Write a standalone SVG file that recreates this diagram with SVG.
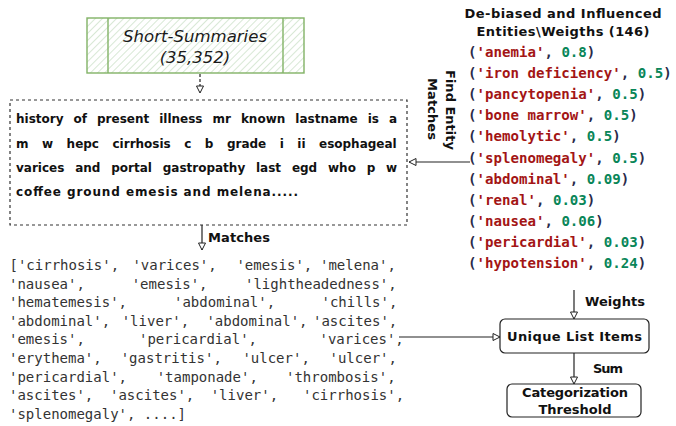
<svg xmlns="http://www.w3.org/2000/svg" width="676" height="426" viewBox="0 0 676 426">
<style>
.c{font-family:"DejaVu Sans","Liberation Sans",sans-serif;font-weight:bold;font-size:13px;fill:#111}
.p{font-family:"DejaVu Sans","Liberation Sans",sans-serif;font-weight:bold;font-size:12px;fill:#111}
.it{font-family:"DejaVu Sans","Liberation Sans",sans-serif;font-style:italic;font-size:16.5px;fill:#1a1a1a}
.ml{font-family:"DejaVu Sans Mono","Liberation Mono",monospace;font-size:14px;fill:#333}
.mr{font-family:"DejaVu Sans Mono","Liberation Mono",monospace;font-size:14.1px;font-weight:bold;fill:#2a2a4a}
.s{fill:#a31515}
.n{fill:#098658}
.ln{stroke:#222;stroke-width:1.2;fill:none}
.box{fill:#fff;stroke:#222;stroke-width:1.2}
</style>
<defs>
<pattern id="hatch" patternUnits="userSpaceOnUse" width="5" height="5" patternTransform="rotate(45)">
<rect width="5" height="5" fill="#fff"/>
<line x1="0" y1="0" x2="0" y2="5" stroke="#c8dfc3" stroke-width="1.4"/>
</pattern>
<marker id="arr" markerUnits="userSpaceOnUse" markerWidth="9" markerHeight="9" refX="8" refY="4" orient="auto">
<path d="M1,0.5 L8,4 L1,7.5 z" fill="#fff" stroke="#222" stroke-width="1"/>
</marker>
</defs>

<g id="summaries">
<rect x="87" y="18" width="217" height="55" fill="url(#hatch)" stroke="#82b366" stroke-width="1.4"/>
<line x1="108" y1="18" x2="108" y2="73" stroke="#82b366" stroke-width="1.4"/>
<line x1="283" y1="18" x2="283" y2="73" stroke="#82b366" stroke-width="1.4"/>
<text class="it" x="195" y="42" text-anchor="middle" textLength="144">Short-Summaries</text>
<text class="it" x="195" y="63" text-anchor="middle">(35,352)</text>
</g>

<g id="note">
<rect x="10" y="100" width="397" height="125" fill="none" stroke="#333" stroke-width="1.2" stroke-dasharray="3 3"/>
<text class="p" y="123"><tspan x="16">history</tspan><tspan x="73.5">of</tspan><tspan x="97">present</tspan><tspan x="159.2">illness</tspan><tspan x="212.5">mr</tspan><tspan x="240.9">known</tspan><tspan x="295.3">lastname</tspan><tspan x="367.7">is</tspan><tspan x="389">a</tspan></text>
<text class="p" y="147.5"><tspan x="16">m</tspan><tspan x="42">w</tspan><tspan x="66.6">hepc</tspan><tspan x="112.5">cirrhosis</tspan><tspan x="184.2">c</tspan><tspan x="204.8">b</tspan><tspan x="226.9">grade</tspan><tspan x="279.7">i</tspan><tspan x="297.3">ii</tspan><tspan x="319">esophageal</tspan></text>
<text class="p" y="172"><tspan x="16">varices</tspan><tspan x="75.2">and</tspan><tspan x="111.2">portal</tspan><tspan x="162.7">gastropathy</tspan><tspan x="256">last</tspan><tspan x="291.9">egd</tspan><tspan x="328">who</tspan><tspan x="366.7">p</tspan><tspan x="386.1">w</tspan></text>
<text class="p" x="16" y="196" textLength="282">coffee ground emesis and melena.....</text>
</g>

<g id="entities">
<text class="c" x="563" y="18" text-anchor="middle" textLength="197">De-biased and Influenced</text>
<text class="c" x="563" y="36" text-anchor="middle" textLength="173">Entities\Weigths (146)</text>
<g class="mr">
<text x="468" y="57">(<tspan class="s">'anemia'</tspan>, <tspan class="n">0.8</tspan>)</text>
<text x="468" y="78">(<tspan class="s">'iron deficiency'</tspan>, <tspan class="n">0.5</tspan>)</text>
<text x="468" y="99">(<tspan class="s">'pancytopenia'</tspan>, <tspan class="n">0.5</tspan>)</text>
<text x="468" y="120">(<tspan class="s">'bone marrow'</tspan>, <tspan class="n">0.5</tspan>)</text>
<text x="468" y="141">(<tspan class="s">'hemolytic'</tspan>, <tspan class="n">0.5</tspan>)</text>
<text x="468" y="162.5">(<tspan class="s">'splenomegaly'</tspan>, <tspan class="n">0.5</tspan>)</text>
<text x="468" y="183.5">(<tspan class="s">'abdominal'</tspan>, <tspan class="n">0.09</tspan>)</text>
<text x="468" y="204.5">(<tspan class="s">'renal'</tspan>, <tspan class="n">0.03</tspan>)</text>
<text x="468" y="225.5">(<tspan class="s">'nausea'</tspan>, <tspan class="n">0.06</tspan>)</text>
<text x="468" y="246.5">(<tspan class="s">'pericardial'</tspan>, <tspan class="n">0.03</tspan>)</text>
<text x="468" y="267.5">(<tspan class="s">'hypotension'</tspan>, <tspan class="n">0.24</tspan>)</text>
</g>
</g>

<g id="matches">
<g class="ml">
<text y="270"><tspan x="9.5">['cirrhosis',</tspan><tspan x="132.4">'varices',</tspan><tspan x="236.4">'emesis',</tspan><tspan x="320">'melena',</tspan></text>
<text y="288.6"><tspan x="9">'nausea',</tspan><tspan x="131.7">'emesis',</tspan><tspan x="245">'lightheadedness',</tspan></text>
<text y="307.2"><tspan x="9">'hematemesis',</tspan><tspan x="174">'abdominal',</tspan><tspan x="321.5">'chills',</tspan></text>
<text y="325.8"><tspan x="9">'abdominal',</tspan><tspan x="121.7">'liver',</tspan><tspan x="206.4">'abdominal',</tspan><tspan x="313">'ascites',</tspan></text>
<text y="344.4"><tspan x="9">'emesis',</tspan><tspan x="139">'pericardial',</tspan><tspan x="319.5">'varices',</tspan></text>
<text y="363"><tspan x="9">'erythema',</tspan><tspan x="120.7">'gastritis',</tspan><tspan x="242.4">'ulcer',</tspan><tspan x="329.5">'ulcer',</tspan></text>
<text y="381.6"><tspan x="9">'pericardial',</tspan><tspan x="156.7">'tamponade',</tspan><tspan x="286">'thrombosis',</tspan></text>
<text y="400.2"><tspan x="9">'ascites',</tspan><tspan x="110">'ascites',</tspan><tspan x="210.7">'liver',</tspan><tspan x="303">'cirrhosis',</tspan></text>
<text y="418.8"><tspan x="9">'splenomegaly', ....]</tspan></text>
</g>
</g>

<g id="unique">
<rect class="box" x="500" y="319" width="149" height="34" rx="5"/>
<text class="c" x="574.5" y="341" text-anchor="middle" textLength="135">Unique List Items</text>
</g>

<g id="threshold">
<rect class="box" x="507" y="384" width="134" height="33" rx="5"/>
<text class="c" x="575" y="397" text-anchor="middle" textLength="106">Categorization</text>
<text class="c" x="575" y="414" text-anchor="middle" textLength="73">Threshold</text>
</g>

<g id="connectors">
<line class="ln" x1="200" y1="74" x2="200" y2="93" stroke-dasharray="3 2" marker-end="url(#arr)"/>
<line class="ln" x1="202" y1="225" x2="202" y2="250" marker-end="url(#arr)"/>
<text class="c" x="208" y="242" textLength="62">Matches</text>
<line class="ln" x1="470" y1="162" x2="409" y2="162" marker-end="url(#arr)"/>
<text class="c" transform="translate(445.5,110) rotate(90)" text-anchor="middle" textLength="80">Find Entity</text>
<text class="c" transform="translate(427.5,109) rotate(90)" text-anchor="middle" textLength="62">Matches</text>
<line class="ln" x1="399" y1="337" x2="500" y2="337" marker-end="url(#arr)"/>
<line class="ln" x1="574" y1="290" x2="574" y2="319" marker-end="url(#arr)"/>
<text class="c" x="585" y="306" textLength="60">Weights</text>
<line class="ln" x1="574" y1="353" x2="574" y2="384" marker-end="url(#arr)"/>
<text class="c" x="593" y="373" textLength="30">Sum</text>
</g>
</svg>
